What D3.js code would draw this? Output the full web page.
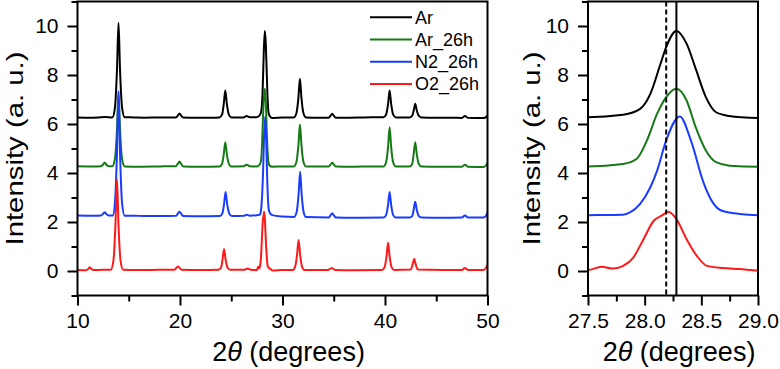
<!DOCTYPE html>
<html>
<head>
<meta charset="utf-8">
<script src="https://cdn.jsdelivr.net/npm/d3@7"></script>
<style>
    body { margin: 0; background: #fff; }
    svg text { font-family: "Liberation Sans", Arial, sans-serif; fill: #000; }
</style>
</head>
<body>
<div id="chart"></div>
<script>
// series, [2theta, intensity]
const seriesNames = ["Ar", "Ar_26h", "N2_26h", "O2_26h"];
const seriesColors = ["#000000", "#157a15", "#1a3cff", "#ff1a1a"];

const ar = [[10,6.27],[11.2,6.26],[12.0,6.27],[12.7,6.29],[13.4,6.27],[13.65,6.66],[13.85,8.2],[14.0,10.13],[14.15,8.2],[14.35,6.66],[14.6,6.28],[15.5,6.27],[16.5,6.26],[18.0,6.27],[19.6,6.27],[19.8,6.35],[19.95,6.43],[20.1,6.35],[20.3,6.27],[21.5,6.26],[23.0,6.26],[23.85,6.27],[24.1,6.38],[24.27,6.82],[24.42,7.37],[24.57,6.82],[24.77,6.38],[25.0,6.27],[26.2,6.27],[26.5,6.33],[26.8,6.28],[27.5,6.28],[27.81,6.38],[27.96,6.62],[28.05,7.23],[28.14,8.46],[28.19,9.14],[28.28,9.8],[28.37,9.28],[28.45,8.26],[28.54,7.1],[28.63,6.48],[28.72,6.35],[28.85,6.28],[29.0,6.25],[30.0,6.27],[31.1,6.27],[31.35,6.43],[31.55,7.06],[31.7,7.85],[31.85,7.06],[32.05,6.43],[32.3,6.27],[33.5,6.26],[34.5,6.26],[34.7,6.34],[34.85,6.42],[35.0,6.34],[35.2,6.26],[36.5,6.26],[38.0,6.27],[39.85,6.28],[40.1,6.38],[40.3,6.82],[40.45,7.37],[40.6,6.82],[40.8,6.38],[41.05,6.27],[42.4,6.27],[42.65,6.33],[42.8,6.55],[42.95,6.83],[43.1,6.55],[43.3,6.33],[43.55,6.27],[45.0,6.26],[46.5,6.26],[47.5,6.25],[47.8,6.33],[48.1,6.25],[49.6,6.24],[49.85,6.28],[50.0,6.36]];

const ar26h = [[10,4.28],[11.5,4.27],[12.3,4.28],[12.5,4.35],[12.65,4.42],[12.8,4.35],[13.0,4.28],[13.4,4.28],[13.65,4.57],[13.85,5.76],[14.0,7.3],[14.15,5.76],[14.35,4.57],[14.6,4.27],[16.0,4.26],[18.0,4.27],[19.6,4.28],[19.8,4.38],[19.95,4.47],[20.1,4.38],[20.3,4.27],[22.0,4.26],[23.85,4.27],[24.1,4.37],[24.27,4.77],[24.42,5.26],[24.57,4.77],[24.77,4.37],[25.0,4.27],[26.2,4.28],[26.5,4.34],[26.8,4.28],[27.5,4.27],[27.81,4.37],[27.93,4.58],[28.02,5.33],[28.11,6.42],[28.19,7.1],[28.28,7.44],[28.37,6.96],[28.45,5.87],[28.54,4.92],[28.63,4.44],[28.75,4.3],[29.0,4.26],[30.0,4.27],[31.1,4.27],[31.35,4.44],[31.55,5.13],[31.7,5.98],[31.85,5.13],[32.05,4.44],[32.3,4.27],[34.5,4.27],[34.7,4.35],[34.85,4.42],[35.0,4.35],[35.2,4.27],[37.0,4.26],[39.85,4.27],[40.1,4.43],[40.3,5.07],[40.45,5.87],[40.6,5.07],[40.8,4.43],[41.05,4.27],[42.4,4.27],[42.65,4.37],[42.8,4.77],[42.95,5.26],[43.1,4.77],[43.3,4.37],[43.55,4.27],[45.5,4.26],[47.5,4.26],[47.8,4.34],[48.1,4.26],[49.6,4.25],[49.85,4.3],[50.0,4.42]];

const n2_26h = [[10,2.27],[11.5,2.26],[12.3,2.27],[12.5,2.34],[12.65,2.4],[12.8,2.34],[13.0,2.27],[13.45,2.27],[13.65,2.76],[13.85,4.8],[14.0,7.35],[14.15,4.8],[14.35,2.76],[14.6,2.26],[16.0,2.25],[18.0,2.24],[19.6,2.25],[19.8,2.35],[19.95,2.42],[20.1,2.35],[20.3,2.24],[22.0,2.23],[23.9,2.24],[24.13,2.35],[24.3,2.74],[24.45,3.22],[24.6,2.74],[24.8,2.35],[25.05,2.24],[26.2,2.25],[26.5,2.3],[26.8,2.26],[27.5,2.28],[27.81,2.3],[27.87,2.39],[27.96,2.74],[28.05,3.42],[28.11,4.1],[28.19,5.33],[28.31,6.31],[28.41,5.3],[28.52,3.6],[28.6,2.8],[28.68,2.46],[28.84,2.33],[29.0,2.28],[30.0,2.22],[31.1,2.2],[31.37,2.39],[31.57,3.13],[31.72,4.05],[31.87,3.13],[32.07,2.39],[32.3,2.2],[34.5,2.18],[34.7,2.28],[34.85,2.36],[35.0,2.28],[35.2,2.18],[37.0,2.17],[39.85,2.18],[40.1,2.28],[40.3,2.7],[40.45,3.22],[40.6,2.7],[40.8,2.28],[41.05,2.18],[42.4,2.18],[42.65,2.24],[42.8,2.5],[42.95,2.83],[43.1,2.5],[43.3,2.24],[43.55,2.18],[45.5,2.17],[47.5,2.18],[47.8,2.27],[48.1,2.18],[49.6,2.18],[49.85,2.25],[50.0,2.4]];

const o2_26h = [[10,0.04],[10.8,0.03],[11.05,0.08],[11.2,0.15],[11.35,0.08],[11.6,0.04],[12.5,0.05],[13.25,0.05],[13.5,0.41],[13.7,1.88],[13.85,3.73],[14.0,1.88],[14.2,0.41],[14.45,0.05],[16.0,0.04],[18.0,0.05],[19.45,0.05],[19.65,0.13],[19.8,0.18],[19.95,0.13],[20.15,0.05],[22.0,0.04],[23.75,0.05],[24.0,0.13],[24.15,0.47],[24.3,0.9],[24.45,0.47],[24.65,0.13],[24.9,0.05],[26.3,0.05],[26.6,0.1],[26.9,0.05],[27.5,0.04],[27.62,0.17],[27.72,0.1],[27.81,0.21],[27.9,0.55],[27.99,1.3],[28.08,2.05],[28.15,2.26],[28.21,2.42],[28.28,2.12],[28.37,1.3],[28.46,0.62],[28.55,0.21],[28.69,0.12],[28.84,0.08],[29.0,0.02],[30.0,0.04],[31.0,0.04],[31.22,0.16],[31.42,0.66],[31.57,1.27],[31.72,0.66],[31.92,0.16],[32.15,0.04],[34.45,0.04],[34.65,0.09],[34.8,0.12],[34.95,0.09],[35.15,0.04],[37.0,0.03],[39.7,0.04],[39.95,0.15],[40.15,0.6],[40.3,1.15],[40.45,0.6],[40.65,0.15],[40.9,0.04],[42.5,0.06],[42.7,0.27],[42.85,0.49],[43.0,0.27],[43.2,0.06],[45.5,0.04],[47.5,0.04],[47.8,0.12],[48.1,0.04],[49.6,0.04],[49.85,0.12],[50.0,0.25]];

const allSeries = [ar, ar26h, n2_26h, o2_26h];

// ticks
const yTicks = [0, 2, 4, 6, 8, 10];
const yMinorTicks = [-1, 1, 3, 5, 7, 9, 11];
const xTicksWide = [10, 20, 30, 40, 50];
const xMinorWide = [15, 25, 35, 45];
const xTicksZoom = [27.5, 28.0, 28.5, 29.0];
const xMinorZoom = [27.75, 28.25, 28.75];
// reference peak positions in the zoom panel: dashed, solid
const refPeaks = [28.19, 28.28];

const svg = d3.select("#chart").append("svg")
    .attr("width", 780)
    .attr("height", 369);

class xrdPanel {

    constructor(svg, opts) {
        this.svg = svg;
        this.opts = opts;
        this.initVis();
    }

    initVis() {
        let vis = this;
        let o = vis.opts;

        vis.x = d3.scaleLinear().domain(o.xDomain).range([o.left, o.right]);
        vis.y = d3.scaleLinear().domain([-1, 11]).range([o.bottom, o.top]);

        vis.g = vis.svg.append("g");

        let clipId = "clip-" + o.name;
        vis.g.append("clipPath").attr("id", clipId)
            .append("rect")
            .attr("x", o.left).attr("y", o.top)
            .attr("width", o.right - o.left).attr("height", o.bottom - o.top);

        vis.line = d3.line()
            .x(d => vis.x(d[0]))
            .y(d => vis.y(d[1]))
            .curve(d3.curveMonotoneX);

        let plot = vis.g.append("g").attr("clip-path", "url(#" + clipId + ")");

        plot.selectAll(".trace")
            .data(allSeries)
            .enter().append("path")
            .attr("class", "trace")
            .attr("d", d => vis.line(d))
            .attr("fill", "none")
            .attr("stroke", (d, i) => seriesColors[i])
            .attr("stroke-width", 2)
            .attr("stroke-linejoin", "round");

        if (o.refLines) {
            plot.selectAll(".ref")
                .data(refPeaks)
                .enter().append("line")
                .attr("class", "ref")
                .attr("x1", d => vis.x(d)).attr("x2", d => vis.x(d))
                .attr("y1", o.top).attr("y2", o.bottom)
                .attr("stroke", "#000")
                .attr("stroke-width", 2)
                .attr("stroke-dasharray", (d, i) => i === 0 ? "5,3" : null);
        }

        // axes
        let xAxis = d3.axisBottom(vis.x).tickValues(o.xTicks).tickSize(10).tickSizeOuter(0)
            .tickFormat(o.xFormat).tickPadding(8);
        let xMinor = d3.axisBottom(vis.x).tickValues(o.xMinor).tickSize(6).tickSizeOuter(0).tickFormat("");
        let yAxis = d3.axisLeft(vis.y).tickValues(yTicks).tickSize(10).tickSizeOuter(0).tickPadding(9);
        let yMinor = d3.axisLeft(vis.y).tickValues(yMinorTicks).tickSize(6).tickSizeOuter(0).tickFormat("");

        [[xAxis, "x"], [xMinor, "x"], [yAxis, "y"], [yMinor, "y"]].forEach(function(a) {
            let ax = vis.g.append("g")
                .attr("transform", a[1] === "x" ? "translate(0," + o.bottom + ")" : "translate(" + o.left + ",0)")
                .call(a[0]);
            ax.select(".domain").remove();
            ax.selectAll("line").attr("stroke", "#000").attr("stroke-width", 2);
            ax.selectAll("text").style("font-size", "21px").attr("fill", "#000");
        });

        // frame
        vis.g.append("rect")
            .attr("x", o.left).attr("y", o.top)
            .attr("width", o.right - o.left).attr("height", o.bottom - o.top)
            .attr("fill", "none")
            .attr("stroke", "#000")
            .attr("stroke-width", 2);

        // titles
        let xt = vis.g.append("text")
            .attr("x", (o.left + o.right) / 2 + 6)
            .attr("y", 361)
            .attr("text-anchor", "middle")
            .style("font-size", "27px");
        xt.append("tspan").text("2");
        xt.append("tspan").style("font-style", "italic").text("θ");
        xt.append("tspan").text(" (degrees)");

        vis.g.append("text")
            .attr("transform", "translate(" + o.yTitleX + "," + ((o.top + o.bottom) / 2) + ") rotate(-90)")
            .attr("text-anchor", "middle")
            .attr("textLength", 194)
            .attr("lengthAdjust", "spacingAndGlyphs")
            .style("font-size", "24px")
            .text("Intensity (a. u.)");

        if (o.legend) vis.drawLegend();
    }

    drawLegend() {
        let vis = this;
        let leg = vis.g.selectAll(".legend")
            .data(seriesNames)
            .enter().append("g")
            .attr("class", "legend")
            .attr("transform", (d, i) => "translate(370," + (17.3 + i * 22.2) + ")");

        leg.append("line")
            .attr("x1", 0).attr("x2", 42)
            .attr("stroke", (d, i) => seriesColors[i])
            .attr("stroke-width", 2);

        leg.append("text")
            .attr("x", 45)
            .attr("dy", "0.35em")
            .style("font-size", "18px")
            .text(d => d);
    }
}

new xrdPanel(svg, {
    name: "wide", left: 77.5, right: 487.5, top: 1.5, bottom: 295.5,
    xDomain: [10, 50], xTicks: xTicksWide, xMinor: xMinorWide,
    xFormat: d3.format("d"), yTitleX: 23, legend: true, refLines: false
});

new xrdPanel(svg, {
    name: "zoom", left: 588, right: 758, top: 1.5, bottom: 295.5,
    xDomain: [27.5, 29.0], xTicks: xTicksZoom, xMinor: xMinorZoom,
    xFormat: d3.format(".1f"), yTitleX: 540, legend: false, refLines: true
});
</script>
</body>
</html>
